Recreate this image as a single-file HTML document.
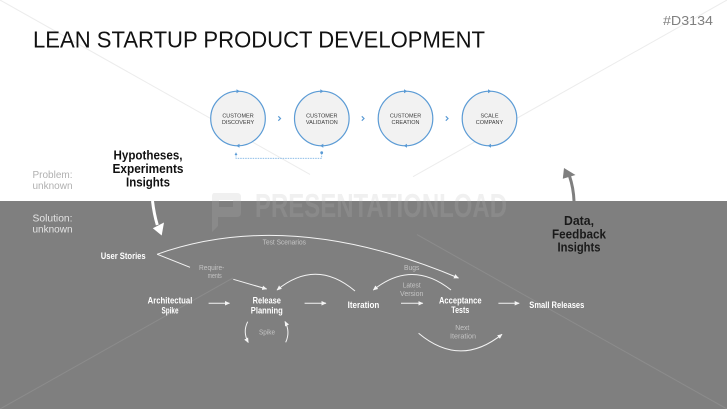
<!DOCTYPE html>
<html><head><meta charset="utf-8"><style>
html,body{margin:0;padding:0;background:#fff;}
svg{display:block;}
text{font-family:"Liberation Sans",Arial,sans-serif;}
</style></head><body>
<svg width="727" height="409" viewBox="0 0 727 409" xmlns="http://www.w3.org/2000/svg">
<defs>
<clipPath id="top"><rect x="0" y="0" width="727" height="201"/></clipPath>
<clipPath id="bot"><rect x="0" y="201" width="727" height="208"/></clipPath>
<marker id="a" viewBox="0 0 10 10" refX="9" refY="5" markerWidth="5" markerHeight="5" markerUnits="userSpaceOnUse" orient="auto"><path d="M0,0.5 L10,5 L0,9.5 z" fill="#f4f4f4"/></marker>
</defs>
<rect x="0" y="0" width="727" height="409" fill="#fff"/>
<rect x="0" y="201" width="727" height="208" fill="#7f7f7f"/>

<!-- diagonal watermark lines -->
<g clip-path="url(#top)" stroke="#ececec" stroke-width="1">
<line x1="0" y1="0" x2="310" y2="174.4"/>
<line x1="727" y1="0" x2="413" y2="176.7"/>
</g>
<g clip-path="url(#bot)" stroke="#8c8c8c" stroke-width="1">
<line x1="417" y1="234.6" x2="727" y2="409"/>
<line x1="233" y1="277.9" x2="0" y2="409"/>
</g>

<!-- watermark -->
<g clip-path="url(#top)" fill="#f0f0f0">
<path fill-rule="evenodd" d="M214,193 H237 Q241,193 241,197 V213 Q241,217 237,217 H218 V226 L212,232 V197 Q212,193 214,193 Z M219,200 V207 H233 V200 Z"/>
<text x="255" y="217" font-size="33" font-weight="bold" textLength="252" lengthAdjust="spacingAndGlyphs">PRESENTATIONLOAD</text>
</g>
<g clip-path="url(#bot)" fill="#8a8a8a">
<path fill-rule="evenodd" d="M214,193 H237 Q241,193 241,197 V213 Q241,217 237,217 H218 V226 L212,232 V197 Q212,193 214,193 Z M219,200 V207 H233 V200 Z"/>
<text x="255" y="217" font-size="33" font-weight="bold" textLength="252" lengthAdjust="spacingAndGlyphs">PRESENTATIONLOAD</text>
</g>

<!-- title -->
<text x="33" y="47.5" font-size="23" fill="#111" textLength="452" lengthAdjust="spacingAndGlyphs">LEAN STARTUP PRODUCT DEVELOPMENT</text>
<text x="663" y="25" font-size="13" fill="#808080" textLength="50" lengthAdjust="spacingAndGlyphs">#D3134</text>

<!-- circles -->
<g fill="#f2f2f2" stroke="#5b9bd5" stroke-width="1.2">
<circle cx="238" cy="118.5" r="27.3"/>
<circle cx="321.8" cy="118.5" r="27.3"/>
<circle cx="405.5" cy="118.5" r="27.3"/>
<circle cx="489.5" cy="118.5" r="27.3"/>
</g>
<g fill="#5b9bd5">
<polygon points="236.5,89.2 239.8,91.2 236.5,93.2"/>
<polygon points="239.5,143.8 236.2,145.8 239.5,147.8"/>
<polygon points="320.3,89.2 323.6,91.2 320.3,93.2"/>
<polygon points="323.3,143.8 320,145.8 323.3,147.8"/>
<polygon points="404,89.2 407.3,91.2 404,93.2"/>
<polygon points="407,143.8 403.7,145.8 407,147.8"/>
<polygon points="488,89.2 491.3,91.2 488,93.2"/>
<polygon points="491,143.8 487.7,145.8 491,147.8"/>
</g>
<g fill="none" stroke="#5b9bd5" stroke-width="1.2">
<polyline points="278.3,116.3 280.5,118.5 278.3,120.7"/>
<polyline points="361.8,116.3 364,118.5 361.8,120.7"/>
<polyline points="445.8,116.3 448,118.5 445.8,120.7"/>
</g>
<path d="M236,155 V158.3 H321.7 V153.5" fill="none" stroke="#7ab2e4" stroke-width="0.8" stroke-dasharray="1.5,1"/>
<polygon points="234.6,155 236,152.3 237.4,155" fill="#5b9bd5"/>
<circle cx="321.7" cy="152.7" r="1.4" fill="#5b9bd5"/>
<g font-size="5.5" fill="#3a3a3a" text-anchor="middle">
<text x="238" y="117.6">CUSTOMER</text><text x="238" y="124.2">DISCOVERY</text>
<text x="321.8" y="117.6">CUSTOMER</text><text x="321.8" y="124.2">VALIDATION</text>
<text x="405.5" y="117.6">CUSTOMER</text><text x="405.5" y="124.2">CREATION</text>
<text x="489.5" y="117.6">SCALE</text><text x="489.5" y="124.2">COMPANY</text>
</g>

<!-- left labels -->
<g font-size="10" fill="#b0b0b0">
<text x="32.5" y="178" textLength="40" lengthAdjust="spacingAndGlyphs">Problem:</text>
<text x="32.5" y="189" textLength="40" lengthAdjust="spacingAndGlyphs">unknown</text>
</g>
<g font-size="10" fill="#e4e4e4">
<text x="32.5" y="221.5" textLength="40" lengthAdjust="spacingAndGlyphs">Solution:</text>
<text x="32.5" y="232.7" textLength="40" lengthAdjust="spacingAndGlyphs">unknown</text>
</g>

<!-- Hypotheses -->
<g font-size="13" font-weight="bold" fill="#111" text-anchor="middle">
<text x="148" y="159.5" textLength="69" lengthAdjust="spacingAndGlyphs">Hypotheses,</text>
<text x="148" y="173" textLength="71" lengthAdjust="spacingAndGlyphs">Experiments</text>
<text x="148" y="186.5" textLength="44" lengthAdjust="spacingAndGlyphs">Insights</text>
</g>
<path d="M152.5,201 Q154,214 157.3,225" fill="none" stroke="#fff" stroke-width="3"/>
<polygon points="161.7,235.5 152.8,228.3 164,222.5" fill="#fff"/>

<!-- Data Feedback -->
<path d="M574,201 Q573.5,188 569.5,176" fill="none" stroke="#7f7f7f" stroke-width="3"/>
<polygon points="564,168 562.8,178.8 575.5,175" fill="#7f7f7f"/>
<g font-size="13" font-weight="bold" fill="#1a1a1a" text-anchor="middle">
<text x="579" y="225" textLength="30" lengthAdjust="spacingAndGlyphs">Data,</text>
<text x="579" y="238.5" textLength="54" lengthAdjust="spacingAndGlyphs">Feedback</text>
<text x="579" y="251.5" textLength="43" lengthAdjust="spacingAndGlyphs">Insights</text>
</g>

<!-- diagram -->
<g font-size="9.5" font-weight="bold" fill="#fff" text-anchor="middle">
<text x="123.2" y="259" textLength="45" lengthAdjust="spacingAndGlyphs">User Stories</text>
<text x="170" y="303.5" textLength="44.7" lengthAdjust="spacingAndGlyphs">Architectual</text>
<text x="170" y="313.5" textLength="17" lengthAdjust="spacingAndGlyphs">Spike</text>
<text x="266.8" y="303.5" textLength="28.3" lengthAdjust="spacingAndGlyphs">Release</text>
<text x="266.8" y="313.5" textLength="32" lengthAdjust="spacingAndGlyphs">Planning</text>
<text x="363.5" y="308" textLength="31.7" lengthAdjust="spacingAndGlyphs">Iteration</text>
<text x="460.3" y="303.5" textLength="42.7" lengthAdjust="spacingAndGlyphs">Acceptance</text>
<text x="460.3" y="313" textLength="18" lengthAdjust="spacingAndGlyphs">Tests</text>
<text x="556.8" y="308" textLength="55" lengthAdjust="spacingAndGlyphs">Small Releases</text>
</g>
<g font-size="7" fill="#c4c4c4" text-anchor="middle">
<text x="284.3" y="244.5" textLength="43.3" lengthAdjust="spacingAndGlyphs">Test Scenarios</text>
<text x="211.7" y="270" textLength="25.3" lengthAdjust="spacingAndGlyphs">Require-</text>
<text x="214.7" y="277.8" textLength="14" lengthAdjust="spacingAndGlyphs">ments</text>
<text x="267" y="334.5" textLength="16" lengthAdjust="spacingAndGlyphs">Spike</text>
<text x="411.7" y="270" textLength="15.3" lengthAdjust="spacingAndGlyphs">Bugs</text>
<text x="411.7" y="287.5" textLength="18" lengthAdjust="spacingAndGlyphs">Latest</text>
<text x="411.7" y="295.8" textLength="23.3" lengthAdjust="spacingAndGlyphs">Version</text>
<text x="462.3" y="330" textLength="14" lengthAdjust="spacingAndGlyphs">Next</text>
<text x="463" y="338.5" textLength="26" lengthAdjust="spacingAndGlyphs">Iteration</text>
</g>
<g fill="none" stroke="#f4f4f4" stroke-width="1">
<line x1="208.6" y1="303.3" x2="229.5" y2="303.3" marker-end="url(#a)"/>
<line x1="304.6" y1="303.3" x2="326" y2="303.3" marker-end="url(#a)"/>
<line x1="401" y1="303.3" x2="422.8" y2="303.3" marker-end="url(#a)"/>
<line x1="498.4" y1="303.3" x2="519.2" y2="303.3" marker-end="url(#a)"/>
<path d="M157,254.3 Q290,207 458.5,278" marker-end="url(#a)"/>
<line x1="157.3" y1="254.3" x2="190" y2="267.3"/>
<line x1="233.3" y1="279.3" x2="266.7" y2="289" marker-end="url(#a)"/>
<path d="M355,291 Q316,258 277,290" marker-end="url(#a)"/>
<path d="M451,290 Q412,259 373.3,290" marker-end="url(#a)"/>
<path d="M418.6,333.3 Q460,368 502,334.3" marker-end="url(#a)"/>
<path d="M247.7,321.7 Q242.5,332 248.3,342.5" marker-end="url(#a)"/>
<path d="M285.7,342.3 Q290.5,332 285,321.5" marker-end="url(#a)"/>
</g>
</svg>
</body></html>
